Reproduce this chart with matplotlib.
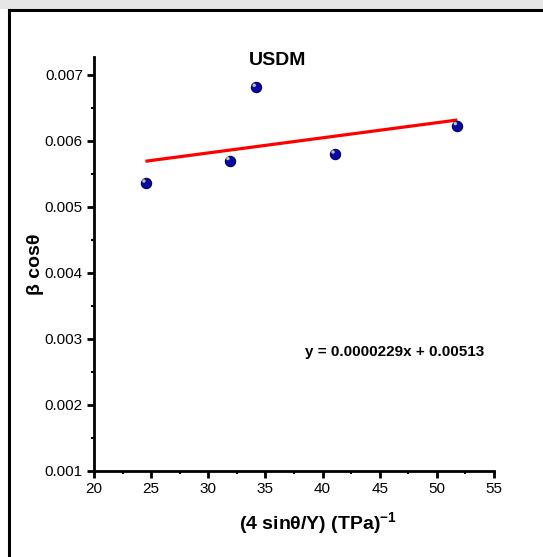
import matplotlib
matplotlib.use("Agg")
import matplotlib.pyplot as plt
import matplotlib.transforms as mtransforms
from matplotlib.patches import Rectangle
import numpy as np

x_vals = [24.55, 31.9, 34.2, 41.1, 51.8]
y_vals = [0.00536, 0.00570, 0.00681, 0.00580, 0.00623]
slope = 0.0000229
intercept = 0.00513
fit_x = [24.5, 51.8]
x_ticks = [20, 25, 30, 35, 40, 45, 50, 55]
y_ticks = [0.001, 0.002, 0.003, 0.004, 0.005, 0.006, 0.007]

plt.rcParams['font.family'] = ['Liberation Sans', 'DejaVu Sans']

fig = plt.figure(figsize=(5.43, 5.57), dpi=100)
fig.patch.set_facecolor('white')

# top gray band and black frame
fig.patches.append(Rectangle((0, 1 - 9/557), 1, 9/557, transform=fig.transFigure,
                             facecolor='#e6e6e6', edgecolor='none', zorder=0))
fig.lines.append(plt.Line2D([9/543, 9/543], [0, 1 - 10/557], transform=fig.transFigure,
                            color='black', lw=2.2))
fig.lines.append(plt.Line2D([9/543, 1], [1 - 10/557, 1 - 10/557], transform=fig.transFigure,
                            color='black', lw=2.2))

ax = fig.add_axes([94/543, 1 - 471/557, 400/543, (471 - 57)/557])
ax.set_xlim(20, 55)
ax.set_ylim(0.001, 0.00727)
for s in ['top', 'right']:
    ax.spines[s].set_visible(False)
for s in ['left', 'bottom']:
    ax.spines[s].set_linewidth(2.0)

ax.set_xticks(x_ticks)
ax.set_yticks(y_ticks)
ax.set_xticklabels([str(t) for t in x_ticks])
ax.set_yticklabels([f"{t:.3f}" for t in y_ticks])
ax.set_xticks(np.arange(22.5, 55, 5), minor=True)
ax.set_yticks(np.arange(0.0015, 0.0072, 0.001), minor=True)
ax.tick_params(which='major', direction='out', length=5, width=2, labelsize=11, pad=3)
ax.tick_params(which='minor', direction='out', length=2.5, width=1.5)

fx = np.array(fit_x)
ax.plot(fx, slope * fx + intercept, color='#ff0000', lw=2.3, zorder=2, solid_capstyle='butt')
ax.scatter(x_vals, y_vals, s=55, color='#0a0a9c', edgecolors='#000070', linewidths=0.8, zorder=3)
hl = mtransforms.offset_copy(ax.transData, fig=fig, x=-1.5, y=1.5, units='points')
ax.scatter(x_vals, y_vals, s=6, color='#c8c49a', edgecolors='none', zorder=4, transform=hl)

ax.text(36.1, 0.00721, 'USDM', ha='center', va='center',
        fontsize=14, fontweight='bold')
ax.text(46.3, 0.0028, 'y = 0.0000229x + 0.00513', ha='center', va='center',
        fontsize=11, fontweight='bold')
ax.set_xlabel(r'(4 sin$\mathregular{\theta}$/Y) (TPa)$^{\mathregular{-1}}$', fontsize=14,
              fontweight='bold')
ax.xaxis.set_label_coords(0.56, -0.095)
ax.set_ylabel('β cosθ', fontsize=14, fontweight='bold')
ax.yaxis.set_label_coords(-0.125, 0.5)

fig.savefig('out.png', dpi=100)
